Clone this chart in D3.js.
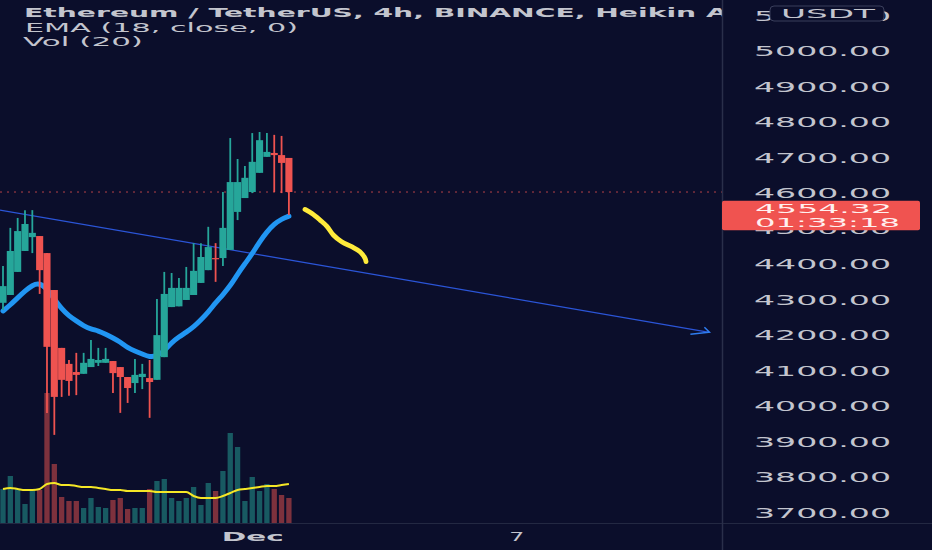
<!DOCTYPE html>
<html><head><meta charset="utf-8">
<script src="https://cdn.jsdelivr.net/npm/d3@7"></script>
<style>html,body{margin:0;padding:0;background:#0b0e2b;overflow:hidden}</style>
</head><body><svg id="c" width="932" height="550"></svg>
<script>
// ---- data (Heikin Ashi 4h candles, ETH/USDT) ----
const opens  = [4290,4312,4377,4436,4475,4478,4430,4326,4163,4118,4095,4090,4109,4121,4121,4126,4109,4081,4064,4081,4078,4073,4137,4278,4280,4298,4312,4346,4382,4416,4416,4439,4546,4585,4602,4656,4701,4712,4706,4698];
const highs  = [4394,4501,4529,4551,4551,4478,4430,4326,4163,4129,4149,4149,4185,4163,4163,4126,4109,4081,4132,4118,4129,4301,4377,4374,4360,4391,4458,4458,4504,4458,4602,4754,4695,4675,4768,4771,4768,4763,4760,4698];
const lows   = [4270,4312,4377,4436,4430,4315,3980,3918,4025,4028,4030,4090,4109,4112,4121,4036,3980,4008,4036,4047,3966,4073,4137,4278,4280,4298,4312,4346,4382,4349,4394,4439,4523,4585,4599,4656,4701,4602,4599,4537];
const closes = [4337,4436,4492,4512,4487,4382,4166,4025,4073,4070,4087,4121,4132,4129,4132,4092,4081,4050,4087,4090,4067,4199,4315,4332,4332,4332,4380,4419,4447,4413,4501,4630,4630,4642,4687,4748,4715,4706,4684,4602];
const emaValues = [4267,4284,4304,4323,4340,4346,4329,4301,4273,4253,4239,4225,4216,4211,4202,4191,4180,4163,4154,4146,4137,4140,4154,4178,4194,4207,4222,4242,4264,4290,4313,4338,4371,4400,4428,4462,4490,4512,4526,4534];
const volumes = [3400,4700,3400,1900,3300,3300,13000,5900,2600,2200,2200,1500,2500,1600,1500,2300,2500,1400,1500,1500,3400,4200,4400,2500,2200,2500,3600,1800,4000,3200,5200,9000,7600,2200,4600,3200,3900,3400,2800,2500];
const volumeMA = [3400,3500,3400,3300,3300,3400,3900,4000,3800,3800,3700,3600,3600,3500,3400,3300,3300,3200,3200,3200,3200,3100,3100,3100,3100,3100,2700,2500,2500,2500,2700,3000,3300,3400,3500,3600,3700,3700,3800,3900];
const priceTicks = [3700,3800,3900,4000,4100,4200,4300,4400,4500,4600,4700,4800,4900,5000,5100];
const timeTickDates = ["2021-12-01T00:00:00Z","2021-12-07T00:00:00Z"];
const timeTickLabels = ["Dec","7"];
const firstCandle = "2021-11-25T08:00:00Z";
// trend line drawing: [candle offset, price]
const trendLine = [[-0.41,4551],[96.36,4207]];
// hand-drawn yellow sketch: [candle offset, price]
const sketch = [[41.2,4553],[42.1,4542],[43.25,4523],[44.16,4506],[45.06,4481],[46.2,4462],[47.57,4448],[48.7,4434],[49.39,4415],[49.52,4406]];
const titleLines = ["Ethereum / TetherUS, 4h, BINANCE, Heikin Ashi","EMA (18, close, 0)","Vol (20)"];
const lastPrice = 4554.32, lastLine = 4602, countdown = "01:33:18", currency = "USDT";

// ---- drawing ----
const W=932,H=550,plotR=722,plotB=523;
const BG="#0b0e2b", UP="#26a69a", DN="#ef5350", TXT="#c3c5ce";
const svg=d3.select("#c");
svg.append("rect").attr("width",W).attr("height",H).attr("fill",BG);
const step=4*3600*1000, t0=new Date(firstCandle).getTime();
const tAt=k=>new Date(t0+k*step);
const x=d3.scaleUtc().domain([tAt(0),tAt(39)]).range([3,288.9]);
const y=d3.scaleLinear().domain([3700,5000]).range([512.3,50.7]);
const yv=d3.scaleLinear().domain([0,16000]).range([plotB,363]);
const FONT="DejaVu Sans, Verdana, sans-serif";

svg.append("clipPath").attr("id","pc").append("rect").attr("x",0).attr("y",0).attr("width",plotR).attr("height",plotB);
const plot=svg.append("g").attr("clip-path","url(#pc)");

// title lines
const tl=[{y:17.3,w:682,sub:"Ethereum / TetherUS, 4h, BINANCE, Heikin ",bold:true,x:24},
          {y:31.7,w:273,x:25},{y:45.7,w:120,x:23}];
titleLines.forEach((s,i)=>{
  const t=svg.append("text").attr("x",tl[i].x).attr("y",tl[i].y).attr("fill",TXT)
    .attr("font-family",FONT).attr("font-size",i==0?"11.5px":"12.5px")
    .attr("font-weight",tl[i].bold?"bold":"normal").text(s);
  let L=tl[i].w;
  if(tl[i].sub){const n=tl[i].sub.length;const sub=t.node().getSubStringLength(0,n);const full=t.node().getComputedTextLength();L=full*tl[i].w/sub;}
  t.attr("textLength",L).attr("lengthAdjust","spacingAndGlyphs");
});

// volume
const idx=d3.range(closes.length);
plot.append("g").selectAll("rect").data(idx).join("rect")
  .attr("x",i=>x(tAt(i))-2.65).attr("width",5.3)
  .attr("y",i=>yv(volumes[i])).attr("height",i=>plotB-yv(volumes[i]))
  .attr("fill",i=>closes[i]>=opens[i]?UP:DN).attr("fill-opacity",0.5);
plot.append("path").datum(idx).attr("fill","none").attr("stroke","#f5e726").attr("stroke-width",2)
  .attr("d",d3.line().x(i=>x(tAt(i))).y(i=>yv(volumeMA[i])).curve(d3.curveMonotoneX));

// trend line
const tp=trendLine.map(d=>[x(tAt(d[0])),y(d[1])]);
plot.append("line").attr("x1",tp[0][0]).attr("y1",tp[0][1]).attr("x2",tp[1][0]).attr("y2",tp[1][1])
  .attr("stroke","#2b55d8").attr("stroke-width",1.3);
const tip=tp[1];
plot.append("path").attr("d",`M${tip[0]-5},${tip[1]-5}L${tip[0]},${tip[1]}L${tip[0]-19},${tip[1]+2}`)
  .attr("fill","none").attr("stroke","#2f7df0").attr("stroke-width",1.5);

// EMA
plot.append("path").datum(idx).attr("fill","none").attr("stroke","#2196f3").attr("stroke-width",5)
  .attr("stroke-linecap","round")
  .attr("d",d3.line().x(i=>x(tAt(i))).y(i=>y(emaValues[i])).curve(d3.curveBasis));

// last price dotted line
plot.append("line").attr("x1",0).attr("x2",plotR).attr("y1",y(lastLine)).attr("y2",y(lastLine))
  .attr("stroke",DN).attr("stroke-opacity",0.75).attr("stroke-width",1).attr("stroke-dasharray","2,5");

// candles
const cg=plot.append("g");
cg.selectAll("line").data(idx).join("line")
  .attr("x1",i=>x(tAt(i))).attr("x2",i=>x(tAt(i)))
  .attr("y1",i=>y(highs[i])).attr("y2",i=>y(lows[i]))
  .attr("stroke",i=>closes[i]>=opens[i]?UP:DN).attr("stroke-width",1.8);
cg.selectAll("rect").data(idx).join("rect")
  .attr("x",i=>x(tAt(i))-3.55).attr("width",7.1)
  .attr("y",i=>y(Math.max(opens[i],closes[i])))
  .attr("height",i=>Math.max(1.2,Math.abs(y(opens[i])-y(closes[i]))))
  .attr("fill",i=>closes[i]>=opens[i]?UP:DN);

// sketch
plot.append("path").datum(sketch).attr("fill","none").attr("stroke","#ffeb3b").attr("stroke-width",4.8)
  .attr("stroke-linecap","round").attr("stroke-linejoin","round")
  .attr("d",d3.line().x(d=>x(tAt(d[0]))).y(d=>y(d[1])).curve(d3.curveCatmullRom));

// right panel
svg.append("rect").attr("x",plotR).attr("y",0).attr("width",W-plotR).attr("height",H).attr("fill",BG);
svg.append("line").attr("x1",0).attr("x2",W).attr("y1",plotB+0.5).attr("y2",plotB+0.5).attr("stroke","#232842").attr("stroke-width",1.2);
svg.append("line").attr("x1",plotR+0.5).attr("x2",plotR+0.5).attr("y1",0).attr("y2",H).attr("stroke","#2a2f4a").attr("stroke-width",1.5);

const ya=svg.append("g").attr("transform","translate(754,0)")
  .call(d3.axisRight(y).tickValues(priceTicks).tickSize(0).tickPadding(0).tickFormat(d3.format(".2f")));
ya.select(".domain").remove();
ya.selectAll("text").attr("fill",TXT).attr("font-family",FONT).attr("font-size","14px")
  .attr("textLength",137).attr("lengthAdjust","spacingAndGlyphs").attr("dy","0.36em");

// currency box
svg.append("rect").attr("x",770).attr("y",6).attr("width",114).attr("height",15).attr("rx",4)
  .attr("fill",BG).attr("stroke","#3a3f5c").attr("stroke-width",1);
svg.append("text").attr("x",781).attr("y",18.4).attr("fill",TXT).attr("font-family",FONT).attr("font-size","13px")
  .attr("textLength",94).attr("lengthAdjust","spacingAndGlyphs").text(currency);

// last price label
const ly=y(lastPrice);
svg.append("rect").attr("x",722).attr("y",ly-8.2).attr("width",198).attr("height",29.5).attr("rx",2).attr("fill","#f05350");
svg.append("text").attr("x",755).attr("y",ly+4.4).attr("fill","#fff0ef").attr("font-family",FONT).attr("font-size","13px")
  .attr("textLength",137).attr("lengthAdjust","spacingAndGlyphs").text(d3.format(".2f")(lastPrice));
svg.append("text").attr("x",755).attr("y",ly+17.8).attr("fill","#fff0ef").attr("font-family",FONT).attr("font-size","13px")
  .attr("textLength",145).attr("lengthAdjust","spacingAndGlyphs").text(countdown);

// time axis
const xa=svg.append("g").attr("transform",`translate(0,${plotB})`)
  .call(d3.axisBottom(x).tickValues(timeTickDates.map(d=>new Date(d))).tickSize(0).tickPadding(0)
  .tickFormat((d,i)=>timeTickLabels[i]));
xa.select(".domain").remove();
xa.selectAll("text").attr("fill",TXT).attr("font-family",FONT).attr("font-size","12px")
  .attr("dy",null).attr("y",17.7)
  .attr("font-weight",(d,i)=>i==0?"bold":"normal")
  .attr("textLength",(d,i)=>i==0?62:15).attr("lengthAdjust","spacingAndGlyphs");
</script></body></html>
